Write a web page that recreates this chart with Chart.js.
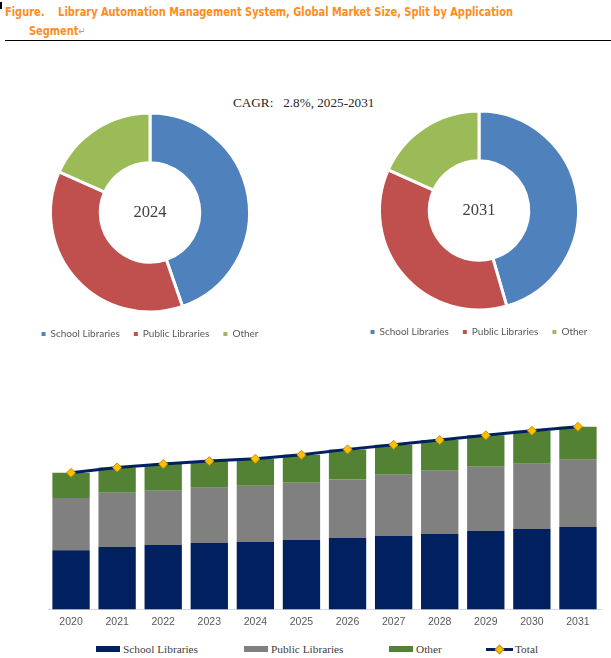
<!DOCTYPE html>
<html>
<head>
<meta charset="utf-8">
<script src="https://cdn.jsdelivr.net/npm/chart.js@4.4.1/dist/chart.umd.min.js"></script>
<style>
  html, body { margin:0; padding:0; background:#fff; width:611px; height:658px; overflow:hidden; position:relative; }
  .abs { position:absolute; }
  #mark { left:0; top:2px; width:2px; height:7px; background:#000; }
  #t1, #t2 { font-family:"DejaVu Sans", Verdana, sans-serif; font-weight:bold; font-size:13px; color:#FF8C1A; white-space:nowrap; line-height:16px; transform-origin:0 50%; }
  #t1 { left:5px; top:4px; }
  #t2 { left:29px; top:23px; }
  #t2 .pm { color:#A6A6A6; font-weight:normal; font-size:11px; }
  #rule { left:5px; top:40px; width:606px; height:1px; background:#000; }
  #cagr { left:233px; top:95px; font-family:"Liberation Serif", "Times New Roman", serif; font-size:13.2px; color:#262626; white-space:pre; }
  .ctr { font-family:"Liberation Serif", "Times New Roman", serif; font-size:16.5px; color:#404040; transform:translate(-50%,-50%); }
  #legB { top:641px; left:0; width:611px; height:16px; font-family:"Liberation Serif", "Times New Roman", serif; font-size:11.3px; color:#404040; }
  #legB .it { position:absolute; top:0; height:16px; line-height:16px; white-space:nowrap; }
  #legB .sw { position:absolute; top:5px; height:6px; }
</style>
</head>
<body>
<div id="mark" class="abs"></div>
<div id="t1" class="abs">Figure.&nbsp;&nbsp;&nbsp; Library Automation Management System, Global Market Size, Split by Application</div>
<div id="t2" class="abs">Segment<span class="pm">↵</span></div>
<div id="rule" class="abs"></div>
<div id="cagr" class="abs">CAGR:   2.8%, 2025-2031</div>

<canvas id="d1" class="abs" style="left:0;top:100px;width:300px;height:250px" width="300" height="250"></canvas>
<canvas id="d2" class="abs" style="left:329px;top:98px;width:300px;height:250px" width="300" height="250"></canvas>
<div class="abs ctr" style="left:150px;top:212px">2024</div>
<div class="abs ctr" style="left:479px;top:210px">2031</div>

<canvas id="bars" class="abs" style="left:0;top:400px;width:611px;height:240px" width="611" height="240"></canvas>
<div id="legB" class="abs"></div>

<script>
// ---------- data ----------
const segments = ["School Libraries", "Public Libraries", "Other"];
const share2024 = [44.7, 37.0, 18.3];
const share2031 = [45.5, 36.2, 18.3];

const years = ["2020","2021","2022","2023","2024","2025","2026","2027","2028","2029","2030","2031"];
const schoolLibraries = [59.0, 62.3, 64.3, 66.3, 67.3, 69.3, 71.3, 73.3, 75.3, 78.3, 80.3, 82.3];
const publicLibraries = [52.3, 54.0, 54.0, 55.0, 56.0, 57.0, 58.7, 61.0, 63.0, 64.0, 65.0, 67.0];
const otherSeg        = [25.0, 25.4, 26.7, 26.7, 27.0, 28.0, 29.7, 30.0, 30.7, 31.4, 33.0, 33.0];
const totalSeries = years.map((_, i) => +(schoolLibraries[i] + publicLibraries[i] + otherSeg[i]).toFixed(1));

const pieColors = ["#4F81BD", "#C0504D", "#9BBB59"];
const barColors = ["#002060", "#808080", "#548235"];

// ---------- doughnuts ----------
function donut(id, data, padTop) {
  return new Chart(document.getElementById(id), {
    type: "doughnut",
    data: { labels: segments, datasets: [{ data: data, backgroundColor: pieColors, borderColor: "#ffffff", borderWidth: 3, hoverOffset: 0 }] },
    options: {
      responsive: false, animation: false,
      radius: 99.5, cutout: "50%",
      layout: { padding: { top: padTop, bottom: 1 } },
      plugins: {
        tooltip: { enabled: false },
        legend: {
          position: "bottom",
          labels: { boxWidth: 4, boxHeight: 4, padding: 14, color: "#595959",
                    font: { family: "Lato, 'Liberation Sans', sans-serif", size: 10 },
                    generateLabels: (chart) => segments.map((lab, i) => ({
                      text: lab, fillStyle: pieColors[i], strokeStyle: pieColors[i], lineWidth: 0,
                      fontColor: "#595959", hidden: false, index: i
                    })) }
        }
      }
    }
  });
}
donut("d1", share2024, 10);
donut("d2", share2031, 10);

// ---------- stacked bars + total ----------
new Chart(document.getElementById("bars"), {
  type: "bar",
  data: {
    labels: years,
    datasets: [
      { type: "line", label: "Total", data: totalSeries, stack: "total", order: 0,
        borderColor: "#002060", borderWidth: 3, pointStyle: "rectRot", pointRadius: 4.5,
        pointBackgroundColor: "#FFC000", pointBorderColor: "#BF9000", pointBorderWidth: 1, tension: 0 },
      { label: "School Libraries", data: schoolLibraries, backgroundColor: barColors[0], stack: "s", order: 1 },
      { label: "Public Libraries", data: publicLibraries, backgroundColor: barColors[1], stack: "s", order: 1 },
      { label: "Other", data: otherSeg, backgroundColor: barColors[2], stack: "s", order: 1 }
    ]
  },
  options: {
    responsive: false, animation: false,
    layout: { padding: { left: 48, right: 10, top: 9, bottom: 6 } },
    datasets: { bar: { barPercentage: 0.81, categoryPercentage: 1 } },
    scales: {
      x: { stacked: true, offset: true,
           grid: { display: false, drawTicks: false },
           border: { display: true, color: "#D9D9D9", width: 1 },
           ticks: { padding: 6, color: "#595959", font: { family: "'Liberation Sans', Arial, sans-serif", size: 10.5 } } },
      y: { stacked: true, display: false, min: 0, max: 200 }
    },
    plugins: { legend: { display: false }, tooltip: { enabled: false } }
  }
});

// ---------- bar legend (HTML) ----------
const legItems = [
  { label: "School Libraries", color: barColors[0], x: 96, kind: "box" },
  { label: "Public Libraries", color: barColors[1], x: 244, kind: "box" },
  { label: "Other", color: barColors[2], x: 389, kind: "box" },
  { label: "Total", color: "#002060", x: 486, kind: "line" }
];
const legB = document.getElementById("legB");
legItems.forEach(it => {
  const d = document.createElement("div");
  d.className = "it";
  d.style.left = it.x + "px";
  if (it.kind === "box") {
    d.innerHTML = '<span class="sw" style="left:0;width:24px;background:' + it.color + '"></span>' +
                  '<span style="position:absolute;left:27px">' + it.label + '</span>';
  } else {
    d.innerHTML = '<span class="sw" style="left:0;width:27px;top:7px;height:3px;background:' + it.color + '"></span>' +
                  '<span style="position:absolute;left:10px;top:5px;width:5px;height:5px;background:#FFC000;border:1px solid #BF9000;transform:rotate(45deg)"></span>' +
                  '<span style="position:absolute;left:29px">' + it.label + '</span>';
  }
  legB.appendChild(d);
});

// fit title line 1 to reference width
const t1 = document.getElementById("t1");
const w = t1.getBoundingClientRect().width;
const s = 508 / w;
t1.style.transform = "scaleX(" + s + ")";
document.getElementById("t2").style.transform = "scaleX(" + s + ")";
</script>
</body>
</html>
